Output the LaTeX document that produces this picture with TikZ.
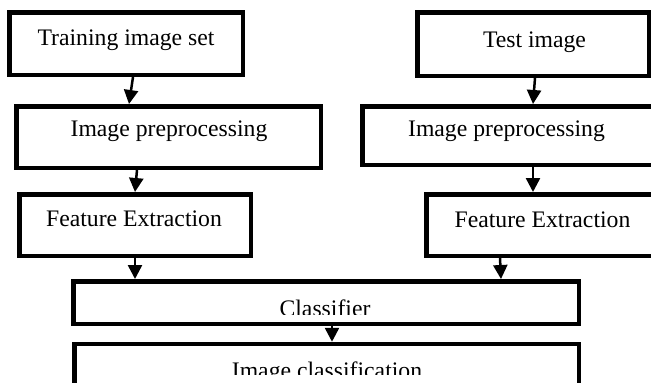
\documentclass[tikz,border=0pt]{standalone}
\usepackage{fontspec}
\setmainfont{Liberation Serif}
\usetikzlibrary{arrows.meta}
\begin{document}
\begin{tikzpicture}[x=1pt,y=-1pt,
  box/.style={draw=black, line width=4.5pt, rectangle, inner sep=0pt, fill=white},
  lbl/.style={anchor=base, inner sep=0pt, font=\fontsize{23.7}{28}\selectfont},
  arr/.style={draw=black, line width=2.5pt, -{Triangle[width=14pt,length=14pt]}}]
\clip (0,0) rectangle (651,383);
\fill[white] (0,0) rectangle (651,383);
% left column
\node[box, minimum width=233.5pt, minimum height=62.5pt] (b1) at (126,43.5) {};
\node[box, minimum width=304.5pt, minimum height=61.5pt] (b2) at (168.5,137) {};
\node[box, minimum width=231.5pt, minimum height=61.5pt] (b3) at (135,225) {};
% right column
\node[box, minimum width=231.5pt, minimum height=63.5pt] (t1) at (533,44) {};
\node[box, minimum width=355.5pt, minimum height=58.5pt] (t2) at (540,135.5) {};
\node[box, minimum width=291.5pt, minimum height=61.5pt] (t3) at (572,225) {};
% bottom
\node[box, minimum width=505.5pt, minimum height=42.5pt] (c) at (326,302.5) {};
\node[box, minimum width=504.5pt, minimum height=80pt] (ic) at (326.5,384) {};
% labels
\node[lbl] (l1) at (126,45) {Training image set};
\node[lbl] (l2) at (169,136) {Image preprocessing};
\node[lbl] (l3) at (134,226) {Feature Extraction};
\node[lbl] (r1) at (534.5,47) {Test image};
\node[lbl] (r2) at (506.5,136) {Image preprocessing};
\node[lbl] (r3) at (542.5,227) {Feature Extraction};
\begin{scope}
\clip (0,0) rectangle (651,314.5);
\node[lbl] (lc) at (325,316) {Classifier};
\end{scope}
\begin{scope}
\clip (0,0) rectangle (651,374);
\node[lbl] (lic) at (327,378) {Image classification};
\end{scope}
% arrows
\draw[arr] ([xshift=7pt]b1.south) -- ([xshift=-39.5pt]b2.north);
\draw[arr] ([xshift=-31.5pt]b2.south) -- (b3.north);
\draw[arr] (b3.south) -- ([xshift=-191pt]c.north);
\draw[arr] ([xshift=2pt]t1.south) -- ([xshift=-7pt]t2.north);
\draw[arr] ([xshift=-7pt]t2.south) -- ([xshift=-39pt]t3.north);
\draw[arr] ([xshift=-72pt]t3.south) -- ([xshift=175pt]c.north);
\draw[arr] ([xshift=6pt]c.south) -- ([xshift=5.5pt]ic.north);
\end{tikzpicture}
\end{document}
